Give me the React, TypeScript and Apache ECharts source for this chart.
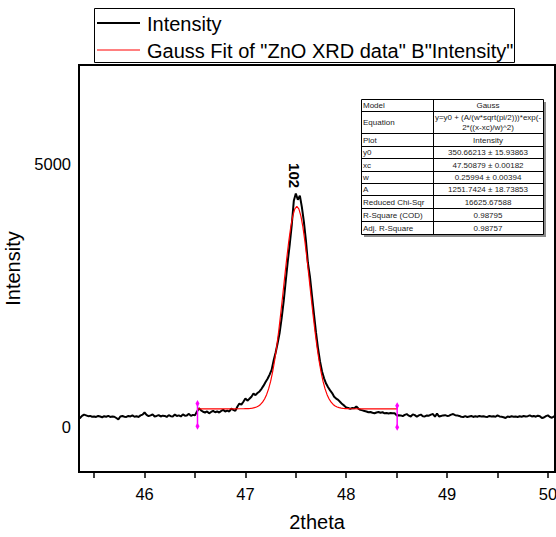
import React, { useEffect, useRef } from "react";
import * as echarts from "echarts";

const FONT = '"Liberation Sans", Arial, sans-serif';

// ---- measured XRD scan: [2theta, intensity]
const scanLow: [number, number][] = [
  [45.34, 160], [45.36, 175], [45.38, 215], [45.40, 240], [45.42, 225], [45.44, 210], [45.46, 215], [45.48, 200],
  [45.50, 205], [45.52, 195], [45.54, 215], [45.56, 205], [45.58, 190], [45.60, 210], [45.62, 200], [45.64, 215],
  [45.66, 195], [45.68, 205], [45.70, 200], [45.72, 175], [45.74, 150], [45.76, 205], [45.78, 215], [45.80, 200],
  [45.82, 195], [45.84, 215], [45.86, 205], [45.88, 225], [45.90, 200], [45.92, 210], [45.94, 195], [45.96, 225],
  [45.98, 240], [46.00, 280], [46.02, 235], [46.04, 210], [46.06, 225], [46.08, 245], [46.10, 205], [46.12, 215],
  [46.14, 230], [46.16, 205], [46.18, 220], [46.20, 215], [46.22, 195], [46.24, 230], [46.26, 210], [46.28, 205],
  [46.30, 240], [46.32, 215], [46.34, 225], [46.36, 205], [46.38, 245], [46.40, 220], [46.42, 225], [46.44, 255],
  [46.46, 215], [46.48, 235], [46.50, 225],
];
const peakRise: [number, number][] = [
  [46.52, 300], [46.54, 360], [46.56, 320], [46.58, 295], [46.60, 280], [46.62, 300], [46.64, 265], [46.66, 290],
  [46.68, 310], [46.70, 285], [46.72, 300], [46.74, 280], [46.76, 310], [46.78, 330], [46.80, 300], [46.82, 315],
  [46.84, 300], [46.86, 355], [46.88, 330], [46.90, 310], [46.92, 390], [46.94, 450], [46.96, 430], [46.98, 485],
  [47.00, 545], [47.02, 505], [47.04, 540], [47.06, 580], [47.08, 640], [47.10, 610], [47.12, 650], [47.14, 680],
  [47.16, 730], [47.18, 790], [47.20, 860], [47.22, 920], [47.24, 1000], [47.26, 1090], [47.28, 1270], [47.30, 1420],
  [47.32, 1600], [47.34, 1800],
];
const peakTop: [number, number][] = [
  [47.36, 2080], [47.38, 2400], [47.40, 2780], [47.42, 3150], [47.44, 3480], [47.46, 3850], [47.48, 4300],
  [47.50, 4440], [47.52, 4320], [47.54, 4400], [47.56, 4180], [47.58, 3900], [47.60, 3550], [47.62, 3120],
  [47.64, 2860], [47.66, 2500], [47.68, 2150], [47.70, 1800],
];
const tailHigh: [number, number][] = [
  [47.72, 1500], [47.74, 1250], [47.76, 1060], [47.78, 930], [47.80, 830], [47.82, 760], [47.84, 700], [47.86, 650],
  [47.88, 580], [47.90, 545], [47.92, 520], [47.94, 480], [47.96, 440], [47.98, 410], [48.00, 375], [48.02, 365],
  [48.04, 350], [48.06, 365], [48.08, 360], [48.10, 395], [48.12, 355], [48.14, 330], [48.16, 320], [48.18, 310],
  [48.20, 300], [48.22, 285], [48.24, 290], [48.26, 275], [48.28, 265], [48.30, 280], [48.32, 290], [48.34, 275],
  [48.36, 285], [48.38, 265], [48.40, 270], [48.42, 260], [48.44, 270], [48.46, 265], [48.48, 265], [48.50, 225],
];
const scanHigh: [number, number][] = [
  [48.52, 230], [48.54, 225], [48.56, 210], [48.58, 235], [48.60, 250], [48.62, 220], [48.64, 205], [48.66, 245],
  [48.68, 230], [48.70, 200], [48.72, 225], [48.74, 240], [48.76, 210], [48.78, 205], [48.80, 225], [48.82, 220],
  [48.84, 240], [48.86, 250], [48.88, 200], [48.90, 260], [48.92, 205], [48.94, 215], [48.96, 225], [48.98, 230],
  [49.00, 215], [49.02, 220], [49.04, 240], [49.06, 250], [49.08, 230], [49.10, 225], [49.12, 215], [49.14, 200],
  [49.16, 195], [49.18, 210], [49.20, 195], [49.22, 205], [49.24, 215], [49.26, 195], [49.28, 210], [49.30, 200],
  [49.32, 215], [49.34, 205], [49.36, 210], [49.38, 200], [49.40, 195], [49.42, 215], [49.44, 205], [49.46, 210],
  [49.48, 200], [49.50, 225], [49.52, 205], [49.54, 200], [49.56, 190], [49.58, 175], [49.60, 205], [49.62, 195],
  [49.64, 210], [49.66, 200], [49.68, 205], [49.70, 195], [49.72, 210], [49.74, 200], [49.76, 215], [49.78, 205],
  [49.80, 210], [49.82, 225], [49.84, 205], [49.86, 215], [49.88, 200], [49.90, 220], [49.92, 210], [49.94, 175],
  [49.96, 185], [49.98, 210], [50.00, 225], [50.02, 195], [50.04, 180], [50.06, 205], [50.08, 200],
];

// ---- Gauss fit curve
const fitTwoTheta = [
  46.53, 46.71, 46.87, 46.95, 46.99, 47.01, 47.03, 47.05, 47.07, 47.09, 47.11, 47.13, 47.15, 47.17, 47.19, 47.21,
  47.23, 47.25, 47.27, 47.29, 47.31, 47.33, 47.35, 47.37, 47.39, 47.41, 47.43, 47.45, 47.47, 47.49, 47.51, 47.53,
  47.55, 47.57, 47.59, 47.61, 47.63, 47.65, 47.67, 47.69, 47.71, 47.73, 47.75, 47.77, 47.79, 47.81, 47.83, 47.85,
  47.87, 47.89, 47.91, 47.93, 47.95, 47.97, 47.99, 48.01, 48.03, 48.07, 48.15, 48.31, 48.51,
];
const fitIntensity = [
  350.7, 350.7, 350.7, 351.0, 352.0, 353.0, 354.9, 358.0, 363.2, 371.5, 384.5, 404.3, 433.7, 476.3, 536.4, 618.7,
  728.4, 870.7, 1049.6, 1268.4, 1527.2, 1823.8, 2152.3, 2502.2, 2860.1, 3209.0, 3530.2, 3804.8, 4015.5, 4147.8, 4193.0, 4147.8,
  4015.5, 3804.8, 3530.2, 3209.0, 2860.1, 2502.2, 2152.3, 1823.8, 1527.2, 1268.4, 1049.6, 870.7, 728.4, 618.7, 536.4, 476.3,
  433.7, 404.3, 384.5, 371.5, 363.2, 358.0, 354.9, 353.0, 352.0, 351.0, 350.7, 350.7, 350.7,
];

// fit range markers [2theta, top, bottom]
const rangeMarkers: [number, number, number][] = [
  [46.525, 450, 20],
  [48.505, 410, 0],
];

const xTicks = [45.5, 46, 46.5, 47, 47.5, 48, 48.5, 49, 49.5, 50];
const xLabels = [46, 47, 48, 49, 50];
const yLabels = [0, 5000];

const peakLabel = { text: "102", x: 47.49, y: 4780 };

const legendItems = ["Intensity", 'Gauss Fit of "ZnO XRD data" B"Intensity"'];

const tableLabels = ["Model", "Equation", "Plot", "y0", "xc", "w", "A", "Reduced Chi-Sqr", "R-Square (COD)", "Adj. R-Square"];
const tableValues = [
  "Gauss",
  "y=y0 + (A/(w*sqrt(pi/2)))*exp(-\n2*((x-xc)/w)^2)",
  "Intensity",
  "350.66213 ± 15.93863",
  "47.50879 ± 0.00182",
  "0.25994 ± 0.00394",
  "1251.7424 ± 18.73853",
  "16625.67588",
  "0.98795",
  "0.98757",
];

export default function App() {
  const ref = useRef<HTMLDivElement>(null);
  useEffect(() => {
    const chart = echarts.init(ref.current!, null, { renderer: "svg" });
    const scan = [...scanLow, ...peakRise, ...peakTop, ...tailHigh, ...scanHigh];
    const fit = fitTwoTheta.map((x, i) => [x, fitIntensity[i]]);

    // table layout
    const rowY = [99, 111, 133, 146, 158, 171, 183, 195, 208, 221, 234];
    const tL = 361, tR = 543, tDiv = 433;
    const tableEls: any[] = [
      { type: "rect", shape: { x: tL + 3, y: rowY[0] + 3, width: tR - tL, height: rowY[10] - rowY[0] }, style: { fill: "#8c8c8c" } },
      { type: "rect", shape: { x: tL + 0.5, y: rowY[0] + 0.5, width: tR - tL, height: rowY[10] - rowY[0] }, style: { fill: "#fff", stroke: "#000", lineWidth: 1 } },
      { type: "line", shape: { x1: tDiv + 0.5, y1: rowY[0], x2: tDiv + 0.5, y2: rowY[10] }, style: { stroke: "#000", lineWidth: 1 } },
    ];
    for (let i = 1; i < rowY.length - 1; i++) {
      tableEls.push({ type: "line", shape: { x1: tL, y1: rowY[i] + 0.5, x2: tR, y2: rowY[i] + 0.5 }, style: { stroke: "#000", lineWidth: 1 } });
    }
    tableLabels.forEach((lab, i) => {
      const cy = (rowY[i] + rowY[i + 1]) / 2 + 0.5;
      tableEls.push({ type: "text", x: tL + 2, y: cy, style: { text: lab, font: `8px ${FONT}`, fill: "#222", verticalAlign: "middle", textAlign: "left" } });
      tableEls.push({ type: "text", x: (tDiv + tR) / 2, y: cy, style: { text: tableValues[i], font: `8px ${FONT}`, fill: "#222", verticalAlign: "middle", textAlign: "center", lineHeight: 10 } });
    });

    const legendEls: any[] = [
      { type: "rect", shape: { x: 94.5, y: 8.5, width: 420, height: 54 }, style: { fill: "#fff", stroke: "#000", lineWidth: 1 } },
      { type: "line", shape: { x1: 97, y1: 23, x2: 140, y2: 23 }, style: { stroke: "#000", lineWidth: 2 } },
      { type: "text", x: 147, y: 23.5, style: { text: legendItems[0], font: `20px ${FONT}`, fill: "#000", verticalAlign: "middle" } },
      { type: "line", shape: { x1: 97, y1: 50, x2: 140, y2: 50 }, style: { stroke: "#ff0000", lineWidth: 1 } },
      { type: "text", x: 147, y: 51, style: { text: legendItems[1], font: `20px ${FONT}`, fill: "#000", verticalAlign: "middle" } },
    ];

    const markerSeries = rangeMarkers.map(([x, top, bottom]) => ({
      type: "line",
      data: [[x, top], [x, bottom]],
      symbol: "diamond",
      symbolSize: [4, 7],
      showSymbol: true,
      itemStyle: { color: "#ff00ff" },
      lineStyle: { color: "#ff00ff", width: 1.5 },
      z: 4,
      silent: true,
    }));

    chart.setOption({
      animation: false,
      backgroundColor: "#fff",
      grid: {
        left: 79, right: 1, top: 65, bottom: 65,
        show: true, borderColor: "#000", borderWidth: 2, backgroundColor: "transparent",
        containLabel: false, outerBoundsMode: "none",
      },
      xAxis: {
        type: "value",
        min: 45.35,
        max: 50.07,
        name: "2theta",
        nameLocation: "middle",
        nameGap: 40,
        nameTextStyle: { fontSize: 20, fontFamily: FONT, color: "#000" },
        axisLine: { show: true, onZero: false, lineStyle: { color: "#000", width: 2 } },
        axisTick: { show: true, length: 6, customValues: xTicks, lineStyle: { color: "#000", width: 1.5 } },
        axisLabel: { customValues: xLabels, fontSize: 16.5, fontFamily: FONT, color: "#000", margin: 13, formatter: (v: number) => String(v) },
        splitLine: { show: false },
      },
      yAxis: {
        type: "value",
        min: -850,
        max: 6880,
        name: "Intensity",
        nameLocation: "middle",
        nameGap: 43,
        nameTextStyle: { fontSize: 20, fontFamily: FONT, color: "#000" },
        axisLine: { show: true, onZero: false, lineStyle: { color: "#000", width: 2 } },
        axisTick: { show: false },
        axisLabel: { customValues: yLabels, fontSize: 16.5, fontFamily: FONT, color: "#000", margin: 8, formatter: (v: number) => String(v) },
        splitLine: { show: false },
      },
      series: [
        {
          type: "line",
          data: scan,
          showSymbol: false,
          symbol: "none",
          lineStyle: { color: "#000", width: 2 },
          z: 2,
          markPoint: {
            symbol: "circle",
            symbolSize: 0,
            data: [{ coord: [peakLabel.x, peakLabel.y], value: peakLabel.text }],
            label: { show: true, formatter: peakLabel.text, rotate: -90, fontSize: 15, fontWeight: "bold", fontFamily: FONT, color: "#000", position: "inside" },
          },
        },
        {
          type: "line",
          data: fit,
          showSymbol: false,
          symbol: "none",
          lineStyle: { color: "#ff0000", width: 1.2 },
          z: 3,
        },
        ...markerSeries,
      ],
      graphic: [...legendEls, ...tableEls],
    });
    return () => chart.dispose();
  }, []);
  return <div ref={ref} style={{ position: "fixed", left: 0, top: 0, width: 556, height: 537, background: "#fff" }} />;
}
